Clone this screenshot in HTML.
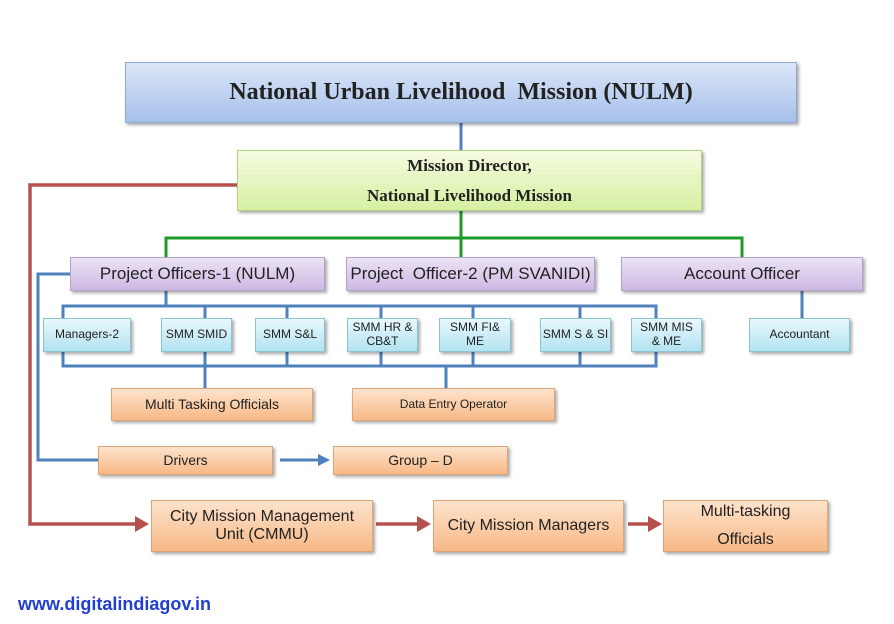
<!DOCTYPE html>
<html><head><meta charset="utf-8"><style>
body{margin:0;width:894px;height:624px;background:#fff;position:relative;overflow:hidden;font-family:"Liberation Sans",sans-serif;}
.b{position:absolute;display:flex;align-items:center;justify-content:center;text-align:center;box-sizing:border-box;color:#222;box-shadow:2px 2px 3px rgba(0,0,0,0.35);line-height:1.15}
.p{background:linear-gradient(#ece3f5,#cdb9e3);border:1px solid #b4a3c8;font-size:17px}
.c{background:linear-gradient(#e9f8fc,#b2e3f1);border:1px solid #8cc3d3;font-size:12px}
.o{background:linear-gradient(#fde3cc,#f7b987);border:1px solid #dca57a;font-size:14px}
.o2{font-size:16px}
svg{position:absolute;left:0;top:0}
</style></head><body>
<svg width="894" height="624">
<g stroke="#4f81bd" stroke-width="3" fill="none">
<line x1="461" y1="123" x2="461" y2="150"/>
<line x1="166" y1="291" x2="166" y2="306"/>
<polyline points="63,318 63,306 656,306 656,318"/>
<line x1="205" y1="306" x2="205" y2="318"/><line x1="287" y1="306" x2="287" y2="318"/><line x1="381" y1="306" x2="381" y2="318"/><line x1="473" y1="306" x2="473" y2="318"/><line x1="580" y1="306" x2="580" y2="318"/>
<polyline points="63,352 63,366 656,366 656,352"/>
<line x1="205" y1="352" x2="205" y2="388"/><line x1="287" y1="352" x2="287" y2="366"/><line x1="381" y1="352" x2="381" y2="366"/><line x1="473" y1="352" x2="473" y2="366"/><line x1="580" y1="352" x2="580" y2="366"/>
<line x1="446" y1="366" x2="446" y2="388"/>
<line x1="802" y1="291" x2="802" y2="318"/>
<polyline points="70,274 38,274 38,460 98,460"/>
<line x1="280" y1="460" x2="320" y2="460"/>
</g>
<polygon points="318,454 330,460 318,466" fill="#4f81bd"/>
<g stroke="#1e9a2a" stroke-width="3" fill="none">
<line x1="461" y1="211" x2="461" y2="238"/>
<polyline points="166,257 166,238 742,238 742,257"/>
<line x1="461" y1="238" x2="461" y2="257"/>
</g>
<g stroke="#b5504f" stroke-width="3.5" fill="none">
<polyline points="237,185 30,185 30,524 138,524"/>
<line x1="376" y1="524" x2="420" y2="524"/>
<line x1="628" y1="524" x2="652" y2="524"/>
</g>
<g fill="#b5504f">
<polygon points="135,516 149,524 135,532"/>
<polygon points="417,516 431,524 417,532"/>
<polygon points="648,516 662,524 648,532"/>
</g>
</svg>
<div class="b" style="left:125px;top:62px;width:672px;height:61px;background:linear-gradient(#dbe6f8,#a6c0ea);border:1px solid #8fa8d4;font-family:'Liberation Serif',serif;font-weight:bold;font-size:24px;">National Urban Livelihood&nbsp; Mission (NULM)</div>
<div class="b" style="left:237px;top:150px;width:465px;height:61px;background:linear-gradient(#f5fbe0,#d6f0a2);border:1px solid #b3cf85;font-family:'Liberation Serif',serif;font-weight:bold;font-size:17px;line-height:30px">Mission Director,<br>National Livelihood Mission</div>
<div class="b p" style="left:70px;top:257px;width:255px;height:34px">Project Officers-1 (NULM)</div>
<div class="b p" style="left:346px;top:257px;width:249px;height:34px">Project&nbsp; Officer-2 (PM SVANIDI)</div>
<div class="b p" style="left:621px;top:257px;width:242px;height:34px">Account Officer</div>
<div class="b c" style="left:43px;top:318px;width:88px;height:34px">Managers-2</div>
<div class="b c" style="left:161px;top:318px;width:71px;height:34px">SMM SMID</div>
<div class="b c" style="left:255px;top:318px;width:70px;height:34px">SMM S&amp;L</div>
<div class="b c" style="left:347px;top:318px;width:71px;height:34px">SMM HR &amp;<br>CB&amp;T</div>
<div class="b c" style="left:439px;top:318px;width:72px;height:34px">SMM FI&amp;<br>ME</div>
<div class="b c" style="left:540px;top:318px;width:71px;height:34px">SMM S &amp; SI</div>
<div class="b c" style="left:631px;top:318px;width:71px;height:34px">SMM MIS<br>&amp; ME</div>
<div class="b c" style="left:749px;top:318px;width:101px;height:34px">Accountant</div>
<div class="b o" style="left:111px;top:388px;width:202px;height:33px">Multi Tasking Officials</div>
<div class="b o" style="left:352px;top:388px;width:203px;height:33px;font-size:12px">Data Entry Operator</div>
<div class="b o" style="left:98px;top:446px;width:175px;height:29px">Drivers</div>
<div class="b o" style="left:333px;top:446px;width:175px;height:29px">Group – D</div>
<div class="b o o2" style="left:151px;top:500px;width:222px;height:52px">City Mission Management<br>Unit (CMMU)</div>
<div class="b o o2" style="left:433px;top:500px;width:191px;height:52px">City Mission Managers</div>
<div class="b o o2" style="left:663px;top:500px;width:165px;height:52px;line-height:28px">Multi-tasking<br>Officials</div>
<div style="position:absolute;left:18px;top:594px;color:#1f3fd0;font-weight:bold;font-size:18px">www.digitalindiagov.in</div>
</body></html>
